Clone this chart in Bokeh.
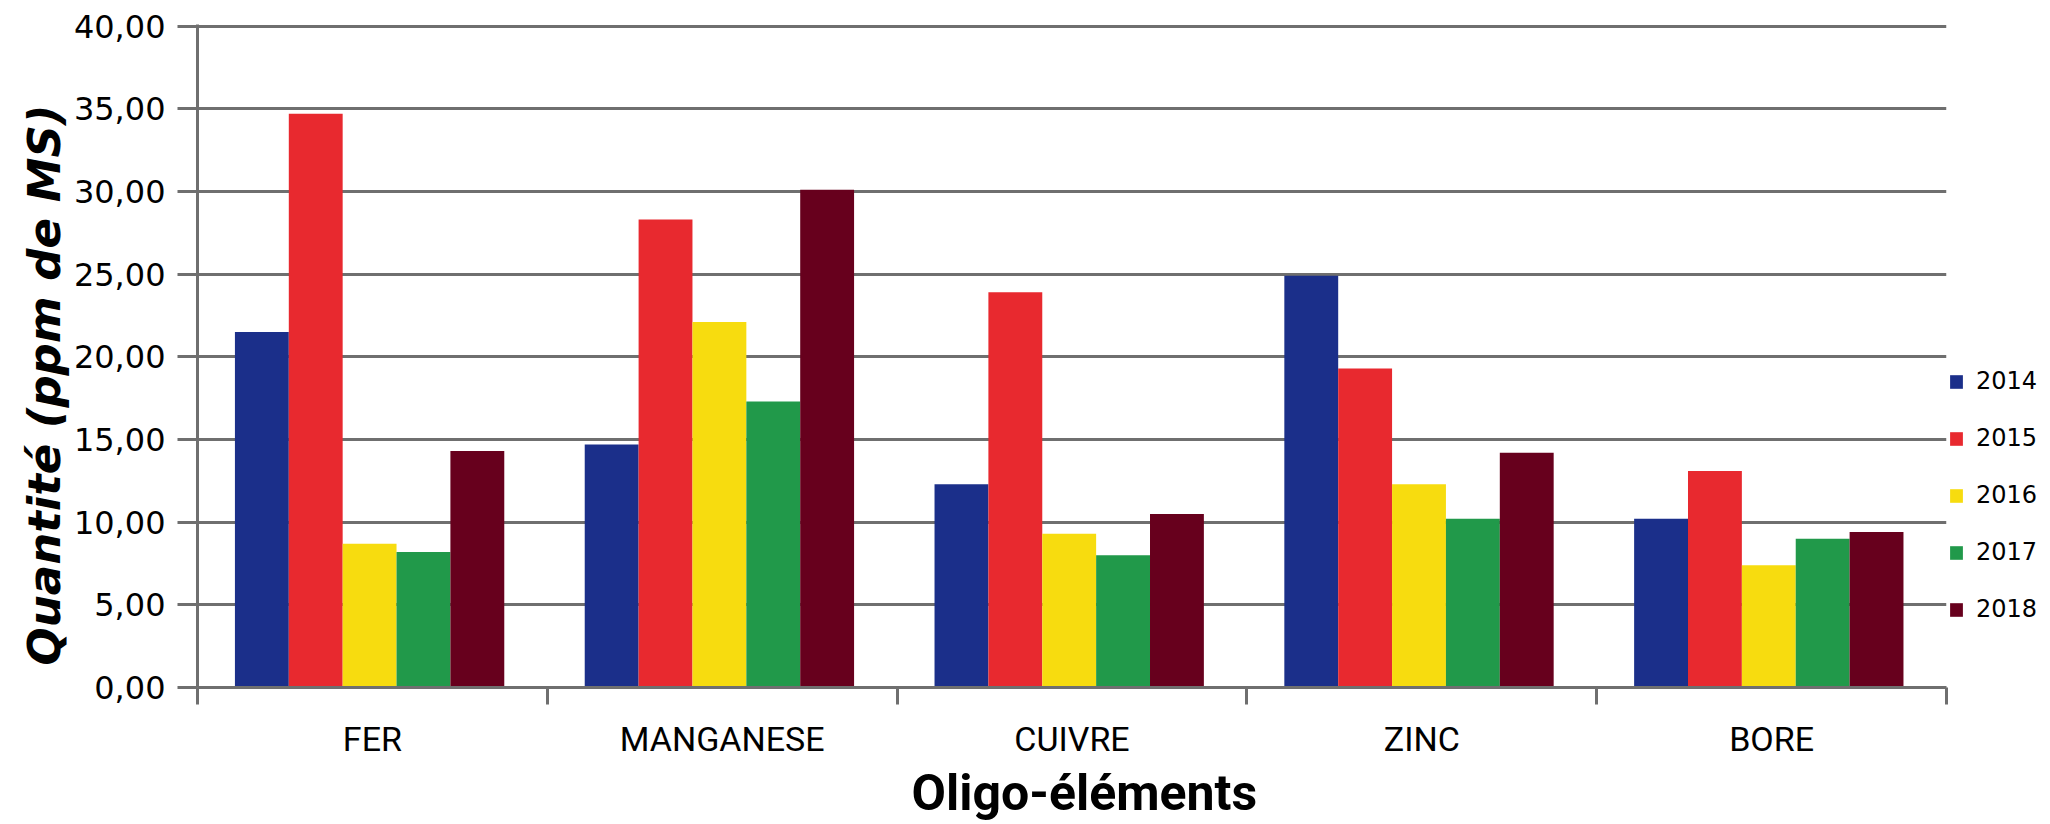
from bokeh.plotting import figure
from bokeh.layouts import row
from bokeh.models import (ColumnDataSource, Range1d, FixedTicker, Legend,
                          LegendItem, Title)
from bokeh.transform import dodge
from bokeh.embed import file_html
from bokeh.resources import INLINE

# ---- data -------------------------------------------------------------
categories = ["FER", "MANGANESE", "CUIVRE", "ZINC", "BORE"]
years = ["2014", "2015", "2016", "2017", "2018"]
v2014 = [21.5, 14.7, 12.3, 24.9, 10.2]
v2015 = [34.7, 28.3, 23.9, 19.3, 13.1]
v2016 = [8.7, 22.1, 9.3, 12.3, 7.4]
v2017 = [8.2, 17.3, 8.0, 10.2, 9.0]
v2018 = [14.3, 30.1, 10.5, 14.2, 9.4]
y_ticks = [0, 5, 10, 15, 20, 25, 30, 35, 40]
y_tick_labels = ["0,00", "5,00", "10,00", "15,00", "20,00",
                 "25,00", "30,00", "35,00", "40,00"]
colors = ["#1b2f8a", "#e8292f", "#f7dc0f", "#21994a", "#67001d"]
x_title = "Oligo-éléments"
y_title = "Quantité (ppm de MS)"

series = [v2014, v2015, v2016, v2017, v2018]
n_cat = len(categories)
centers = [i + 0.5 for i in range(n_cat)]
boundaries = list(range(n_cat + 1))

data = {"x": centers}
for yr, vals in zip(years, series):
    data[yr] = vals
source = ColumnDataSource(data)

GRAY = "#6f6f6f"
H = 824

p = figure(width=1948, height=H,
           x_range=Range1d(0, n_cat), y_range=Range1d(0, 40.1),
           output_backend="svg", toolbar_location=None,
           min_border_left=197, min_border_right=2,
           min_border_top=24, min_border_bottom=H - 687)
p.outline_line_color = None
p.background_fill_color = "white"

bar_w = 0.154
offsets = [(j - (len(years) - 1) / 2) * bar_w - 0.008 for j in range(len(years))]
for yr, col, off in zip(years, colors, offsets):
    p.vbar(x=dodge("x", off, range=p.x_range), top=yr, width=bar_w,
           source=source, fill_color=col, line_color=None)

# grid
p.xgrid.visible = False
p.ygrid.grid_line_color = GRAY
p.ygrid.grid_line_width = 3
p.ygrid.ticker = FixedTicker(ticks=y_ticks)

# y axis
ya = p.yaxis[0]
ya.ticker = FixedTicker(ticks=y_ticks)
ya.major_label_overrides = dict(zip(y_ticks, y_tick_labels))
ya.major_label_text_font = "DejaVu Sans"
ya.major_label_text_font_size = "32px"
ya.major_label_text_color = "#000000"
ya.major_label_standoff = 12
ya.major_tick_out = 20
ya.major_tick_in = 0
ya.major_tick_line_color = GRAY
ya.major_tick_line_width = 3
ya.minor_tick_line_color = None
ya.axis_line_color = GRAY
ya.axis_line_width = 3

# x axis
xa = p.xaxis[0]
xa.ticker = FixedTicker(ticks=centers, minor_ticks=boundaries)
xa.major_label_overrides = dict(zip(centers, categories))
xa.major_label_text_font = "Roboto"
xa.major_label_text_font_size = "34px"
xa.major_label_text_color = "#000000"
xa.major_label_standoff = 14
xa.major_tick_out = 0
xa.major_tick_in = 0
xa.major_tick_line_color = None
xa.minor_tick_out = 17
xa.minor_tick_in = 0
xa.minor_tick_line_color = GRAY
xa.minor_tick_line_width = 3
xa.axis_line_color = GRAY
xa.axis_line_width = 3

# x title
xt = Title(text=x_title, align="left", offset=714, standoff=0,
           text_font="Roboto", text_font_size="50px",
           text_font_style="bold", text_color="#000000")
p.add_layout(xt, "below")

# y title
yt = Title(text=y_title, align="left", offset=22, standoff=0,
           text_font="DejaVu Sans", text_font_size="45px",
           text_font_style="bold italic", text_color="#000000")
p.add_layout(yt, "left")

# legend (in a narrow companion figure to the right of the plot; the
# companion's ranges keep its copy of the bars out of view)
p2 = figure(width=2044 - 1948, height=H,
            x_range=Range1d(-2, -1), y_range=Range1d(0, 1),
            output_backend="svg", toolbar_location=None,
            x_axis_location=None, y_axis_location=None,
            min_border_left=0, min_border_right=0,
            min_border_top=0, min_border_bottom=0)
p2.outline_line_color = None
p2.xgrid.visible = False
p2.ygrid.visible = False
swatches = []
for yr, col in zip(years, colors):
    swatches.append(p2.vbar(x="x", top=yr, width=bar_w, source=source,
                            fill_color=col, line_color=None))
legend = Legend(items=[LegendItem(label=yr, renderers=[r])
                       for yr, r in zip(years, swatches)],
                location=(0, 64), orientation="vertical",
                glyph_width=16, glyph_height=17, label_standoff=12,
                label_height=17, spacing=29, padding=0, margin=0,
                border_line_color=None, background_fill_alpha=0,
                label_text_font="DejaVu Sans", label_text_font_size="24px",
                label_text_color="#000000")
p2.add_layout(legend)

layout = row(p, p2, spacing=0)
open("out.html", "w").write(file_html(layout, INLINE))
